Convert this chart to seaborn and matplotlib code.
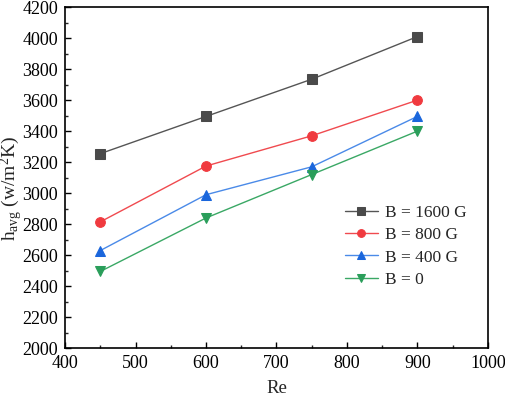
import matplotlib
matplotlib.use("Agg")
import matplotlib.pyplot as plt
import seaborn as sns
import pandas as pd
from matplotlib.ticker import MultipleLocator

re_vals = [450, 600, 750, 900]
h_1600 = [3255, 3495, 3735, 4010]
h_800 = [2815, 3175, 3370, 3600]
h_400 = [2630, 2990, 3170, 3495]
h_0 = [2495, 2840, 3120, 3400]
labels = ["B = 1600 G", "B = 800 G", "B = 400 G", "B = 0"]

sns.set_style("ticks")
plt.rcParams["font.family"] = ["Liberation Serif", "DejaVu Serif"]
plt.rcParams["mathtext.fontset"] = "custom"
plt.rcParams["mathtext.rm"] = "Liberation Serif"
plt.rcParams["mathtext.it"] = "Liberation Serif:italic"

df = pd.concat([
    pd.DataFrame({"Re": re_vals, "h": vals, "B": lab})
    for vals, lab in zip([h_1600, h_800, h_400, h_0], labels)
])

line_colors = ["#555555", "#f04a4f", "#4a8ae8", "#3aa865"]
marker_colors = ["#4a4a4a", "#f03a3f", "#1a66dc", "#2a9e5a"]
markers = ["s", "o", "^", "v"]

fig = plt.figure(figsize=(5.05, 3.97), dpi=100)
ax = fig.add_axes([0.129, 0.123, 0.837, 0.859])

for lab, lc, mc, mk in zip(labels, line_colors, marker_colors, markers):
    sub = df[df["B"] == lab]
    sns.lineplot(data=sub, x="Re", y="h", ax=ax, color=lc, marker=mk,
                 markersize=7, markerfacecolor=mc, markeredgecolor=mc,
                 linewidth=1.0, label=lab)

ax.set_xlim(400, 1000)
ax.set_ylim(2000, 4200)
ax.xaxis.set_major_locator(MultipleLocator(100))
ax.xaxis.set_minor_locator(MultipleLocator(50))
ax.yaxis.set_major_locator(MultipleLocator(200))
ax.yaxis.set_minor_locator(MultipleLocator(100))
ax.tick_params(axis="both", which="major", direction="in", length=4, width=1,
               labelsize=13, colors="black", pad=5)
ax.tick_params(axis="both", which="minor", direction="in", length=2, width=1)
for sp in ax.spines.values():
    sp.set_visible(True)
    sp.set_linewidth(1.2)
    sp.set_color("black")

ax.set_xlabel("Re", fontsize=13.5)
ax.set_ylabel(r"h$_{\mathrm{avg}}$ (w/m$^{2}$K)", fontsize=14)
ax.xaxis.set_label_coords(0.5, -0.094)
ax.yaxis.set_label_coords(-0.094, 0.47)

ax.legend(loc="upper left", bbox_to_anchor=(0.662, 0.42), frameon=False,
          fontsize=12.5, handlelength=1.9, labelspacing=0.35, handletextpad=0.4,
          markerscale=0.8, borderaxespad=0, borderpad=0)

fig.savefig("out.png", dpi=100)
